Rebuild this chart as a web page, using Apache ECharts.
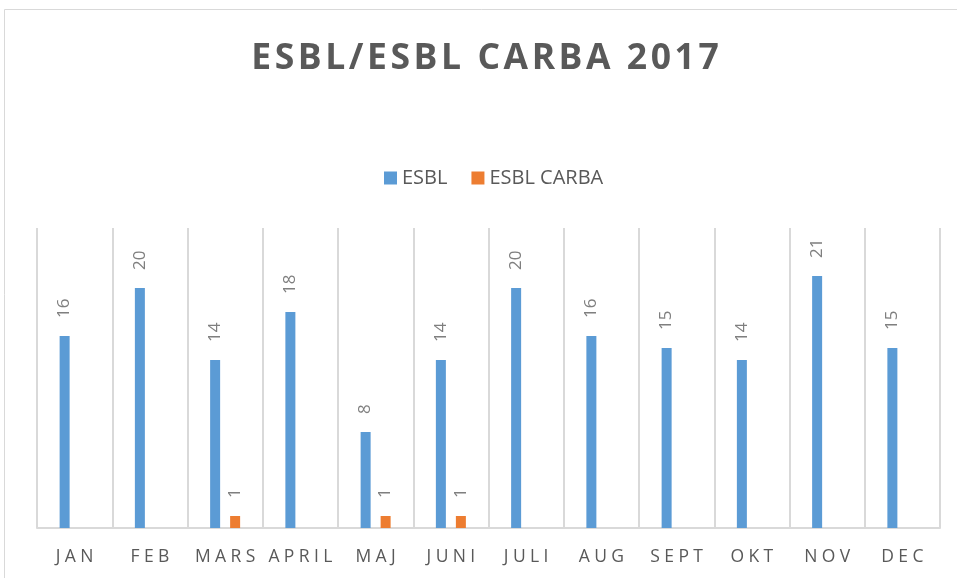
<!DOCTYPE html>
<html>
<head>
<meta charset="utf-8">
<script src="https://cdn.jsdelivr.net/npm/echarts@6/dist/echarts.min.js"></script>
<style>
html, body { margin: 0; padding: 0; background: #fff; }
#main { width: 957px; height: 578px; }
</style>
</head>
<body>
<div id="main"></div>
<script>
var months = ['JAN', 'FEB', 'MARS', 'APRIL', 'MAJ', 'JUNI', 'JULI', 'AUG', 'SEPT', 'OKT', 'NOV', 'DEC'];
var esbl = [16, 20, 14, 18, 8, 14, 20, 16, 15, 14, 21, 15];
var esblCarba = [null, null, 1, null, 1, 1, null, null, null, null, null, null];

// spread letters a bit, like the original
function spaced(s, sep) {
	return s.split('').join(sep);
}

var myChart = echarts.init(document.getElementById('main'));

var labelStyle = {
	show: true,
	position: 'top',
	rotate: 90,
	align: 'left',
	verticalAlign: 'middle',
	distance: 18,
	fontFamily: 'Open Sans',
	fontSize: 17,
	color: '#7f7f7f'
};

var option = {
	animation: false,
	title: {
		text: spaced('ESBL/ESBL CARBA 2017', '\u200a'),
		left: 480,
		textAlign: 'center',
		top: 36,
		textStyle: {
			fontFamily: 'Open Sans',
			fontWeight: 'bold',
			fontSize: 35.5,
			color: '#595959'
		}
	},
	legend: {
		top: 163,
		left: 379,
		itemWidth: 13,
		itemHeight: 13,
		itemGap: 24,
		icon: 'rect',
		textStyle: {
			fontFamily: 'Open Sans',
			fontSize: 20,
			color: '#595959'
		},
		data: ['ESBL', 'ESBL CARBA']
	},
	grid: {
		left: 37,
		right: 17,
		top: 228,
		bottom: 50
	},
	xAxis: {
		type: 'category',
		data: months,
		axisTick: { show: false },
		axisLine: { lineStyle: { color: '#d9d9d9', width: 2 } },
		splitLine: { show: true, interval: 0, lineStyle: { color: '#d9d9d9', width: 2 } },
		axisLabel: {
			interval: 0,
			margin: 20,
			fontFamily: 'Open Sans',
			fontSize: 17.5,
			color: '#595959',
			formatter: function (v) { return spaced(v, '\u2005'); }
		}
	},
	yAxis: {
		type: 'value',
		min: 0,
		max: 25,
		show: false,
		splitLine: { show: false }
	},
	graphic: [{
		type: 'rect',
		shape: { x: 4.5, y: 9.5, width: 1000, height: 1000 },
		style: { fill: null, stroke: '#d9d9d9', lineWidth: 1 },
		silent: true
	}],
	series: [{
		name: 'ESBL',
		type: 'bar',
		data: esbl,
		barWidth: 10,
		barGap: '100%',
		itemStyle: { color: '#5b9bd5' },
		label: labelStyle
	}, {
		name: 'ESBL CARBA',
		type: 'bar',
		data: esblCarba,
		barWidth: 10,
		itemStyle: { color: '#ed7d31' },
		label: labelStyle
	}]
};

myChart.setOption(option);
</script>
</body>
</html>
